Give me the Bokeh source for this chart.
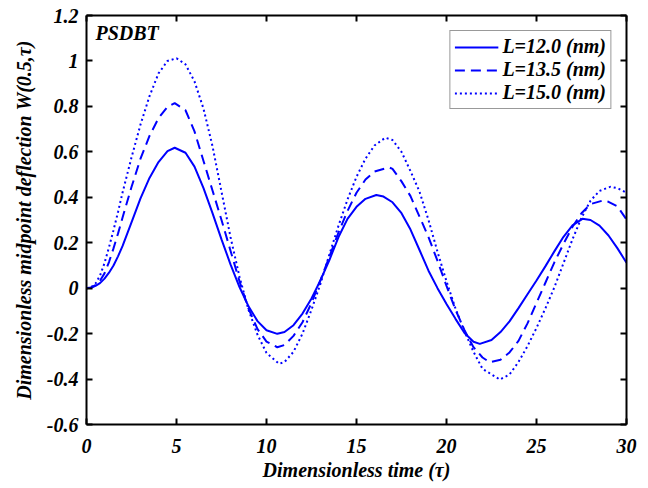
from bokeh.plotting import figure
from bokeh.models import Range1d, LinearAxis, FixedTicker, Legend, LegendItem, Label
from bokeh.embed import file_html
from bokeh.resources import INLINE

# ---- data ----
t_L120 = [0, 0.25, 0.5, 0.75, 1, 1.25, 1.5, 1.75, 2, 2.5, 3, 3.5, 4, 4.5, 4.9, 5.5, 6, 6.5, 7,
          7.5, 8, 8.5, 9, 9.5, 10, 10.6, 11, 11.5, 12, 12.5, 13, 13.5, 14, 14.5, 15, 15.5, 16.1,
          16.5, 17, 17.5, 18, 18.5, 19, 19.5, 20, 20.5, 21, 21.5, 21.85, 22.5, 23, 23.5, 24,
          24.5, 25, 25.5, 26, 26.5, 27, 27.55, 28, 28.5, 29, 29.5, 30]
w_L120 = [0, 0.002, 0.01, 0.022, 0.042, 0.068, 0.10, 0.14, 0.185, 0.29, 0.395, 0.485, 0.555,
          0.603, 0.618, 0.596, 0.535, 0.44, 0.33, 0.215, 0.105, 0.005, -0.08, -0.145, -0.185,
          -0.201, -0.193, -0.163, -0.112, -0.045, 0.035, 0.125, 0.225, 0.305, 0.358, 0.393, 0.41,
          0.403, 0.378, 0.33, 0.258, 0.168, 0.077, 0.0, -0.07, -0.135, -0.197, -0.236, -0.245,
          -0.228, -0.193, -0.146, -0.088, -0.027, 0.034, 0.097, 0.163, 0.226, 0.276, 0.305,
          0.30, 0.275, 0.232, 0.175, 0.112]

t_L135 = [0, 0.25, 0.5, 0.75, 1, 1.25, 1.5, 1.75, 2, 2.5, 3, 3.5, 4, 4.5, 4.9, 5.5, 6, 6.5, 7,
          7.5, 8, 8.5, 9, 9.5, 10, 10.6, 11, 11.5, 12, 12.5, 13, 13.5, 14, 14.5, 15, 15.5, 16,
          16.8, 17, 17.5, 18, 18.5, 19, 19.5, 20, 20.5, 21, 21.5, 22, 22.4, 23, 23.5, 24, 24.5,
          25, 25.5, 26, 26.5, 27, 27.5, 28, 28.7, 29, 29.5, 30]
w_L135 = [0, 0.003, 0.013, 0.033, 0.065, 0.115, 0.175, 0.24, 0.31, 0.445, 0.57, 0.67, 0.748,
          0.798, 0.814, 0.783, 0.69, 0.56, 0.43, 0.30, 0.165, 0.03, -0.09, -0.18, -0.235, -0.26,
          -0.25, -0.21, -0.15, -0.065, 0.035, 0.14, 0.245, 0.34, 0.42, 0.478, 0.513, 0.532,
          0.525, 0.47, 0.405, 0.315, 0.225, 0.12, 0.01, -0.095, -0.185, -0.26, -0.305, -0.326,
          -0.315, -0.283, -0.232, -0.155, -0.065, 0.025, 0.115, 0.195, 0.27, 0.33, 0.37, 0.386,
          0.38, 0.36, 0.302]

t_L150 = [0, 0.25, 0.5, 0.75, 1, 1.25, 1.5, 1.75, 2, 2.5, 3, 3.5, 4, 4.5, 5, 5.5, 6, 6.5, 7,
          7.5, 8, 8.5, 9, 9.5, 10, 10.7, 11, 11.5, 12, 12.5, 13, 13.5, 14, 14.5, 15, 15.5, 16,
          16.6, 17, 17.5, 18, 18.5, 19, 19.5, 20, 20.5, 21, 21.5, 22, 22.96, 23.5, 24, 24.5, 25,
          25.5, 26, 26.5, 27, 27.5, 28, 28.5, 29.1, 29.5, 30]
w_L150 = [0, 0.004, 0.02, 0.055, 0.11, 0.18, 0.255, 0.335, 0.42, 0.575, 0.72, 0.845, 0.945,
          1.0, 1.012, 0.985, 0.91, 0.79, 0.625, 0.425, 0.225, 0.05, -0.095, -0.205, -0.285,
          -0.333, -0.325, -0.28, -0.2, -0.095, 0.02, 0.15, 0.275, 0.39, 0.49, 0.57, 0.628,
          0.662, 0.652, 0.60, 0.515, 0.425, 0.30, 0.16, 0.03, -0.09, -0.19, -0.28, -0.355,
          -0.402, -0.38, -0.325, -0.255, -0.175, -0.088, 0.005, 0.11, 0.215, 0.31, 0.385,
          0.428, 0.446, 0.44, 0.42]

series_labels = ["L=12.0 (nm)", "L=13.5 (nm)", "L=15.0 (nm)"]
x_ticks = [0, 5, 10, 15, 20, 25, 30]
x_tick_labels = ["0", "5", "10", "15", "20", "25", "30"]
y_ticks = [-0.6, -0.4, -0.2, 0, 0.2, 0.4, 0.6, 0.8, 1.0, 1.2]
y_tick_labels = ["-0.6", "-0.4", "-0.2", "0", "0.2", "0.4", "0.6", "0.8", "1", "1.2"]

FONT = "Liberation Serif"
BLUE = "#0000ff"

p = figure(width=640, height=486, output_backend="svg", toolbar_location=None,
           x_range=Range1d(0, 30), y_range=Range1d(-0.6, 1.2),
           min_border_left=86, min_border_right=14, min_border_top=15, min_border_bottom=62)
p.xgrid.visible = False
p.ygrid.visible = False
p.outline_line_color = None
p.background_fill_color = "white"
p.border_fill_color = "white"

r1 = p.line(t_L120, w_L120, line_color=BLUE, line_width=2)
r2 = p.line(t_L135, w_L135, line_color=BLUE, line_width=2, line_dash="10 6")
r3 = p.line(t_L150, w_L150, line_color=BLUE, line_width=2, line_dash="2 3")

def style_axis(ax, ticks, labels, show_labels=True):
    ax.ticker = FixedTicker(ticks=ticks)
    ax.major_label_overrides = {tk: lb for tk, lb in zip(ticks, labels)}
    ax.axis_line_color = "black"
    ax.axis_line_width = 2
    ax.major_tick_line_color = "black"
    ax.major_tick_line_width = 2
    ax.major_tick_in = 6
    ax.major_tick_out = 0
    ax.minor_tick_line_color = None
    ax.major_label_text_font = FONT
    ax.major_label_text_font_style = "bold italic"
    ax.major_label_text_font_size = "20px"
    ax.major_label_text_color = "black"
    ax.axis_label_text_font = FONT
    ax.axis_label_text_font_style = "bold italic"
    ax.axis_label_text_font_size = "20px"
    ax.axis_label_text_color = "black"
    if not show_labels:
        ax.major_label_text_font_size = "1px"
        ax.major_label_text_color = None
        ax.major_label_standoff = 0

xa = p.xaxis[0]
style_axis(xa, x_ticks, x_tick_labels)
xa.axis_label = "Dimensionless time (τ)"
xa.major_label_standoff = 14
xa.axis_label_standoff = 3

ya = p.yaxis[0]
style_axis(ya, y_ticks, y_tick_labels)
ya.axis_label = "Dimensionless midpoint deflection W(0.5,τ)"
ya.major_label_standoff = 8
ya.axis_label_standoff = 9

ra = LinearAxis()
style_axis(ra, y_ticks, y_tick_labels, show_labels=False)
p.add_layout(ra, "right")
ta = LinearAxis()
style_axis(ta, x_ticks, x_tick_labels, show_labels=False)
p.add_layout(ta, "above")

legend = Legend(items=[LegendItem(label=series_labels[0], renderers=[r1]),
                       LegendItem(label=series_labels[1], renderers=[r2]),
                       LegendItem(label=series_labels[2], renderers=[r3])],
                location="top_right", margin=15, padding=4, spacing=0,
                glyph_width=44, glyph_height=20, label_height=20, label_standoff=4,
                label_text_font=FONT, label_text_font_style="bold italic",
                label_text_font_size="20px", label_text_color="black",
                border_line_color="#333333", border_line_width=1,
                background_fill_color="white", background_fill_alpha=1.0)
p.add_layout(legend, "center")

p.add_layout(Label(x=0.5, y=1.17, text="PSDBT", text_font=FONT, text_font_style="bold italic",
                   text_font_size="20px", text_color="black", text_baseline="top"))

open("out.html", "w").write(file_html(p, INLINE))
